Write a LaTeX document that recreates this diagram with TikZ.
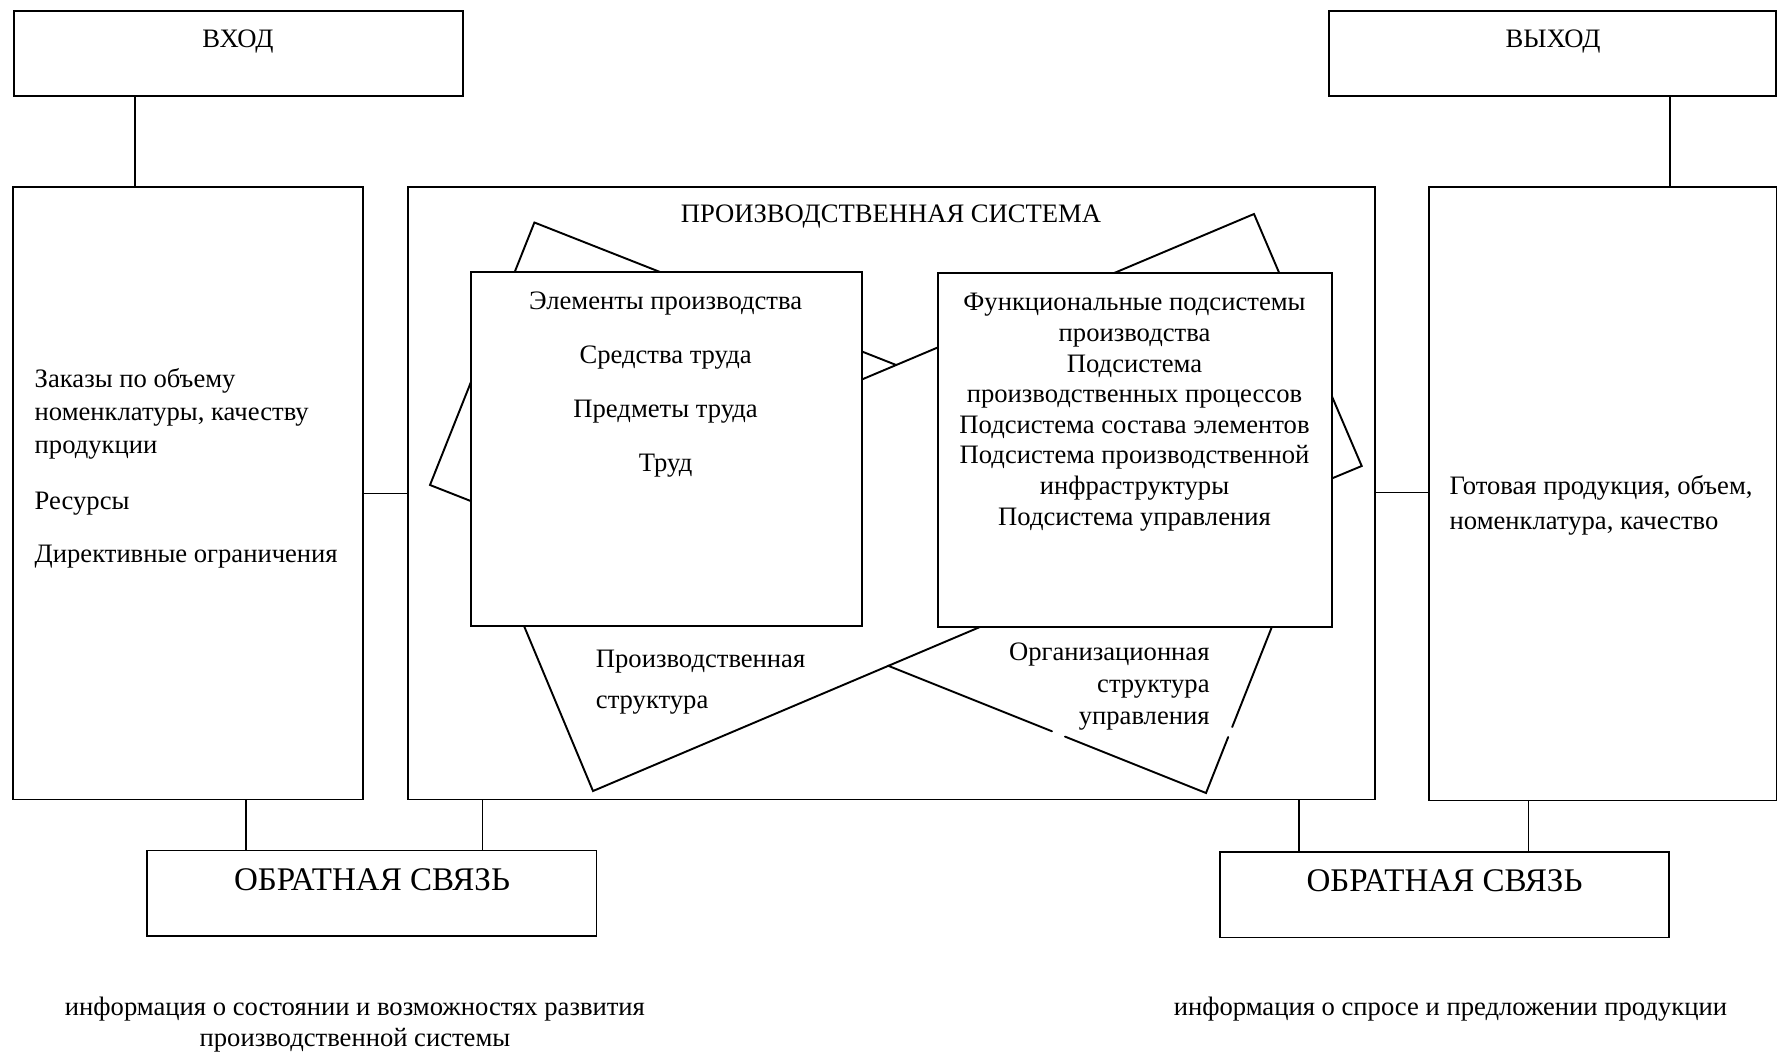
\documentclass[tikz,border=0pt]{standalone}
\usepackage{fontspec}
\setmainfont{Liberation Serif}
\usepackage{tkz-euclide}
\usetikzlibrary{fit,calc}

\tikzset{
  box/.style={draw,line width=.9pt,inner sep=0pt},
  wire/.style={line width=.5pt},
  txt/.style={inner sep=0pt,font=\fontsize{12.5}{15}\selectfont},
}

\begin{document}
\begin{tikzpicture}[x=.165mm,y=-.165mm]
\useasboundingbox (0,0) rectangle (1778,1054);
\tkzSetUpLine[line width=.9pt,color=black]

\node[box,fit={(13.6,11.3) (462.7,96.4)}] (vhod) {};
\node[box,fit={(1329,11.3) (1776,96.4)}] (vyhod) {};
\node[box,fit={(13.3,187) (363.3,799.5)}] (inp) {};
\node[box,fit={(408.3,187) (1375,799.5)}] (sys) {};
\node[box,fit={(1429,187) (1776.5,800.5)}] (outp) {};
\node[box,fit={(147.4,850.5) (596.5,935.6)}] (fbl) {};
\node[box,fit={(1220,852) (1669,937.5)}] (fbr) {};

\draw[wire] (vhod.south -| 135,0) -- (inp.north -| 135,0);
\draw[wire] (vyhod.south -| 1670,0) -- (outp.north -| 1670,0);
\draw[wire] (inp.east |- 0,493.3) -- (sys.west |- 0,493.3);
\draw[wire] (sys.east |- 0,492.7) -- (outp.west |- 0,492.7);
\draw[wire] (inp.south -| 246,0) -- (fbl.north -| 246,0);
\draw[wire] (sys.south -| 482.5,0) -- (fbl.north -| 482.5,0);
\draw[wire] (sys.south -| 1299,0) -- (fbr.north -| 1299,0);
\draw[wire] (outp.south -| 1528.5,0) -- (fbr.north -| 1528.5,0);

\tkzDefPoints{534.4/222.5/A,430/485/B,472/501.5/C,593/791/D,1000/618.5/E,896.2/365/X}
\tkzDefPoints{887.8/665.6/Y,1052/731.3/G,1065/736.6/H,1206/793/K,1228.2/737/L,1232.2/727/M,1330.5/479/N,1361.7/466/P,1254/214/Q,800/405.6/R}
\tkzDrawPolySeg(X,A,B,C,D,E)
\tkzDrawSegment(Y,G)
\tkzDrawPolySeg(H,K,L)
\tkzDrawPolySeg(M,N,P,Q,R)

\node[box,fill=white,fit={(470.6,272) (862,626)}] (elem) {};
\node[box,fill=white,fit={(938,273) (1331.7,627.3)}] (func) {};

\node[txt,anchor=base] (vhodT) at (238,47) {ВХОД};
\node[txt,anchor=base] (vyhodT) at (1553,47) {ВЫХОД};
\node[txt,anchor=base] (sysT) at (891,222) {ПРОИЗВОДСТВЕННАЯ СИСТЕМА};

\node[txt,anchor=base west,align=left,font=\fontsize{12.5}{15.4}\selectfont] (zak) at (34.3,453.3)
  {Заказы по объему\\номенклатуры, качеству\\продукции};
\node[txt,anchor=base west] (res) at (34.3,509) {Ресурсы};
\node[txt,anchor=base west] (dir) at (34.3,562.3) {Директивные ограничения};

\node[txt,anchor=base,align=center,font=\fontsize{12.5}{25.3}\selectfont] (elemT) at (665.6,471)
  {Элементы производства\\Средства труда\\Предметы труда\\Труд};
\node[txt,anchor=base,align=center,font=\fontsize{12.5}{14.36}\selectfont] (funcT) at (1134.5,525)
  {Функциональные подсистемы\\производства\\Подсистема\\производственных процессов\\Подсистема состава элементов\\Подсистема производственной\\инфраструктуры\\Подсистема управления};

\node[txt,anchor=base west,align=left,font=\fontsize{12.5}{19.2}\selectfont] (prodT) at (595.5,708)
  {Производственная\\структура};
\node[txt,anchor=base east,align=right,font=\fontsize{12.5}{14.8}\selectfont] (orgT) at (1210,724)
  {Организационная\\структура\\управления};

\node[txt,anchor=base west,align=left,font=\fontsize{12.5}{16.4}\selectfont] (gotT) at (1449.3,529)
  {Готовая продукция, объем,\\номенклатура, качество};

\node[txt,anchor=base,font=\fontsize{15.5}{18}\selectfont] (fblT) at (372,890) {ОБРАТНАЯ СВЯЗЬ};
\node[txt,anchor=base,font=\fontsize{15.5}{18}\selectfont] (fbrT) at (1444.5,891.7) {ОБРАТНАЯ СВЯЗЬ};

\node[txt,anchor=base,align=center,font=\fontsize{12.5}{14.8}\selectfont] (infL) at (355,1046.7)
  {информация о состоянии и возможностях развития\\производственной системы};
\node[txt,anchor=base] (infR) at (1450.4,1015) {информация о спросе и предложении продукции};
\end{tikzpicture}
\end{document}
